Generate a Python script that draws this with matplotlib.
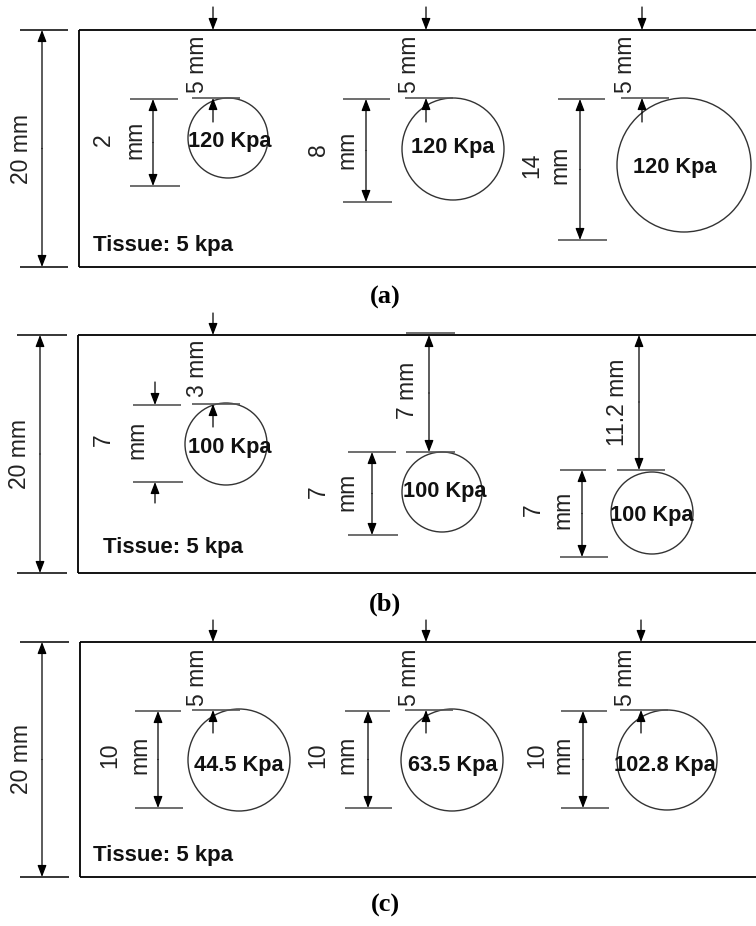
import matplotlib
matplotlib.use("Agg")
import matplotlib.pyplot as plt
from matplotlib.patches import Ellipse, FancyArrowPatch

# ---------------- data (text content of the schematic) ----------------
panel_labels = ["(a)", "(b)", "(c)"]
tissue_label = "Tissue: 5 kpa"
total_depth_label = "20 mm"

stiffness_a = ["120 Kpa", "120 Kpa", "120 Kpa"]
diameter_a = ["2", "8", "14"]
depth_a = ["5 mm", "5 mm", "5 mm"]

stiffness_b = ["100 Kpa", "100 Kpa", "100 Kpa"]
diameter_b = ["7", "7", "7"]
depth_b = ["3 mm", "7 mm", "11.2 mm"]

stiffness_c = ["44.5 Kpa", "63.5 Kpa", "102.8 Kpa"]
diameter_c = ["10", "10", "10"]
depth_c = ["5 mm", "5 mm", "5 mm"]

# ---------------- layout (pixel geometry of the drawing) ----------------
W, H = 756, 926
fig = plt.figure(figsize=(W / 100, H / 100), dpi=100)
ax = fig.add_axes([0, 0, 1, 1])
ax.set_xlim(0, W)
ax.set_ylim(H, 0)
ax.axis("off")

SANS = ["Liberation Sans", "DejaVu Sans"]
SERIF = ["Liberation Serif", "DejaVu Serif"]
DIM_FS = 16.5
STIFF_FS = 15.7
TISSUE_FS = 16
LABEL_FS = 19
GRAY = "#555555"


def line(x0, x1, y0, y1, color="black", lw=1.1):
    ax.plot([x0, x1], [y0, y1], color=color, lw=lw, solid_capstyle="butt")


def arrow(x, y_from, y_to, style="-|>"):
    a = FancyArrowPatch((x, y_from), (x, y_to),
                        arrowstyle=style + ",head_length=0.7,head_width=0.27",
                        mutation_scale=10, shrinkA=0, shrinkB=0,
                        color="black", lw=0.9)
    ax.add_patch(a)


def vtext(x, y, s, size=DIM_FS):
    ax.text(x, y, s, rotation=90, ha="center", va="center",
            fontsize=size, family=SANS, color="#222222")


def circle(cx, cy, r):
    ax.add_patch(Ellipse((cx, cy), 2 * r, 2 * r, fill=False,
                         edgecolor="#333333", lw=1.0))


def panel_frame(top, bottom, left, dim_x0, dim_x1, dim_arrow_x, dim_text_x):
    line(left, W + 5, top, top, lw=1.3)
    line(left, W + 5, bottom, bottom, lw=1.3)
    line(left, left, top, bottom, lw=1.3)
    line(dim_x0, dim_x1, top, top, lw=1.1)
    line(dim_x0, dim_x1, bottom, bottom, lw=1.1)
    arrow(dim_arrow_x, (top + bottom) / 2, top)
    arrow(dim_arrow_x, (top + bottom) / 2, bottom)
    vtext(dim_text_x, (top + bottom) / 2, total_depth_label)


def diameter_dim(x0, x1, ytop, ybot, ax_x, num_x, mm_x, ty, label, outward=False):
    line(x0, x1 - 2, ytop, ytop, color=GRAY, lw=1.2)
    line(x0, x1, ybot, ybot, color=GRAY, lw=1.2)
    if outward:
        arrow(ax_x, ytop - 23, ytop)
        arrow(ax_x, ybot + 21, ybot)
    else:
        arrow(ax_x, (ytop + ybot) / 2, ytop)
        arrow(ax_x, (ytop + ybot) / 2, ybot)
    vtext(num_x, ty, label)
    vtext(mm_x, ty, "mm")


def stiff(x, y, s):
    ax.text(x, y, s, ha="center", va="center", fontsize=STIFF_FS,
            family=SANS, weight="bold", color="#111111")


def tissue(x, y):
    ax.text(x, y, tissue_label, ha="left", va="center", fontsize=TISSUE_FS,
            family=SANS, weight="bold", color="#111111")


def plabel(x, y, s):
    ax.text(x, y, s, ha="center", va="center", fontsize=LABEL_FS,
            family=SERIF, weight="bold", color="black")


# ---------------- panel (a) ----------------
top, bot = 30, 267
panel_frame(top, bot, 79, 20, 68, 42, 22)
a_arrow_x = [213, 426, 642]
a_circ = [(228, 138, 40), (453, 149, 51), (684, 165, 67)]
a_dim_x = [(130, 180), (343, 392), (558, 607)]
a_dim_bot = [186, 202, 240]
a_dim_arrow = [153, 366, 580]
a_num_x = [103, 318, 532]
a_mm_x = [135, 347, 560]
a_text_y = [140, 150, 165]
a_stiff_pos = [(230, 142), (453, 148), (675, 167)]
for i in range(3):
    xa = a_arrow_x[i]
    arrow(xa, 7, top)
    circle(*a_circ[i])
    line(xa - 21, xa + 27, 98, 98, color=GRAY, lw=1.2)
    arrow(xa, 122, 98)
    vtext(xa - 16, 64, depth_a[i])
    diameter_dim(a_dim_x[i][0], a_dim_x[i][1], 99, a_dim_bot[i], a_dim_arrow[i],
                 a_num_x[i], a_mm_x[i], a_text_y[i], diameter_a[i])
    stiff(*a_stiff_pos[i], stiffness_a[i])
tissue(93, 245)
plabel(385, 297, panel_labels[0])

# ---------------- panel (b) ----------------
top, bot = 335, 573
panel_frame(top, bot, 78, 17, 67, 40, 20)
# inclusion 1
arrow(213, 313, top)
circle(226, 444, 41)
line(192, 240, 404, 404, color=GRAY, lw=1.2)
arrow(213, 427, 404)
vtext(197, 368, depth_b[0])
diameter_dim(133, 183, 405, 482, 155, 103, 137, 440, diameter_b[0], outward=True)
stiff(230, 448, stiffness_b[0])
# inclusion 2
line(406, 455, 333, 333, color=GRAY, lw=1.2)
line(406, 455, 452, 452, color=GRAY, lw=1.2)
arrow(429, 393, top)
arrow(429, 393, 452)
vtext(407, 390, depth_b[1])
circle(442, 492, 40)
diameter_dim(348, 398, 452, 535, 372, 318, 347, 492, diameter_b[1])
stiff(445, 492, stiffness_b[1])
# inclusion 3
line(617, 665, 470, 470, color=GRAY, lw=1.2)
arrow(639, 402, top)
arrow(639, 402, 470)
vtext(618, 402, depth_b[2])
circle(652, 513, 41)
diameter_dim(560, 608, 470, 557, 582, 533, 563, 510, diameter_b[2])
stiff(652, 515, stiffness_b[2])
tissue(103, 547)
plabel(385, 604, panel_labels[1])

# ---------------- panel (c) ----------------
top, bot = 642, 877
panel_frame(top, bot, 80, 20, 69, 42, 22)
c_arrow_x = [213, 426, 641]
c_circ = [(239, 760, 51), (452, 760, 51), (667, 760, 50)]
c_dim_x = [(135, 183), (345, 392), (561, 609)]
c_dim_arrow = [158, 368, 583]
c_num_x = [110, 318, 537]
c_mm_x = [140, 347, 563]
c_stiff_pos = [(239, 765), (453, 765), (665, 765)]
for i in range(3):
    xa = c_arrow_x[i]
    arrow(xa, 620, top)
    circle(*c_circ[i])
    line(xa - 21, xa + 27, 710, 710, color=GRAY, lw=1.2)
    arrow(xa, 733, 710)
    vtext(xa - 16, 677, depth_c[i])
    diameter_dim(c_dim_x[i][0], c_dim_x[i][1], 711, 808, c_dim_arrow[i],
                 c_num_x[i], c_mm_x[i], 755, diameter_c[i])
    stiff(*c_stiff_pos[i], stiffness_c[i])
tissue(93, 855)
plabel(385, 905, panel_labels[2])

fig.savefig("out.png", dpi=100, facecolor="white")
